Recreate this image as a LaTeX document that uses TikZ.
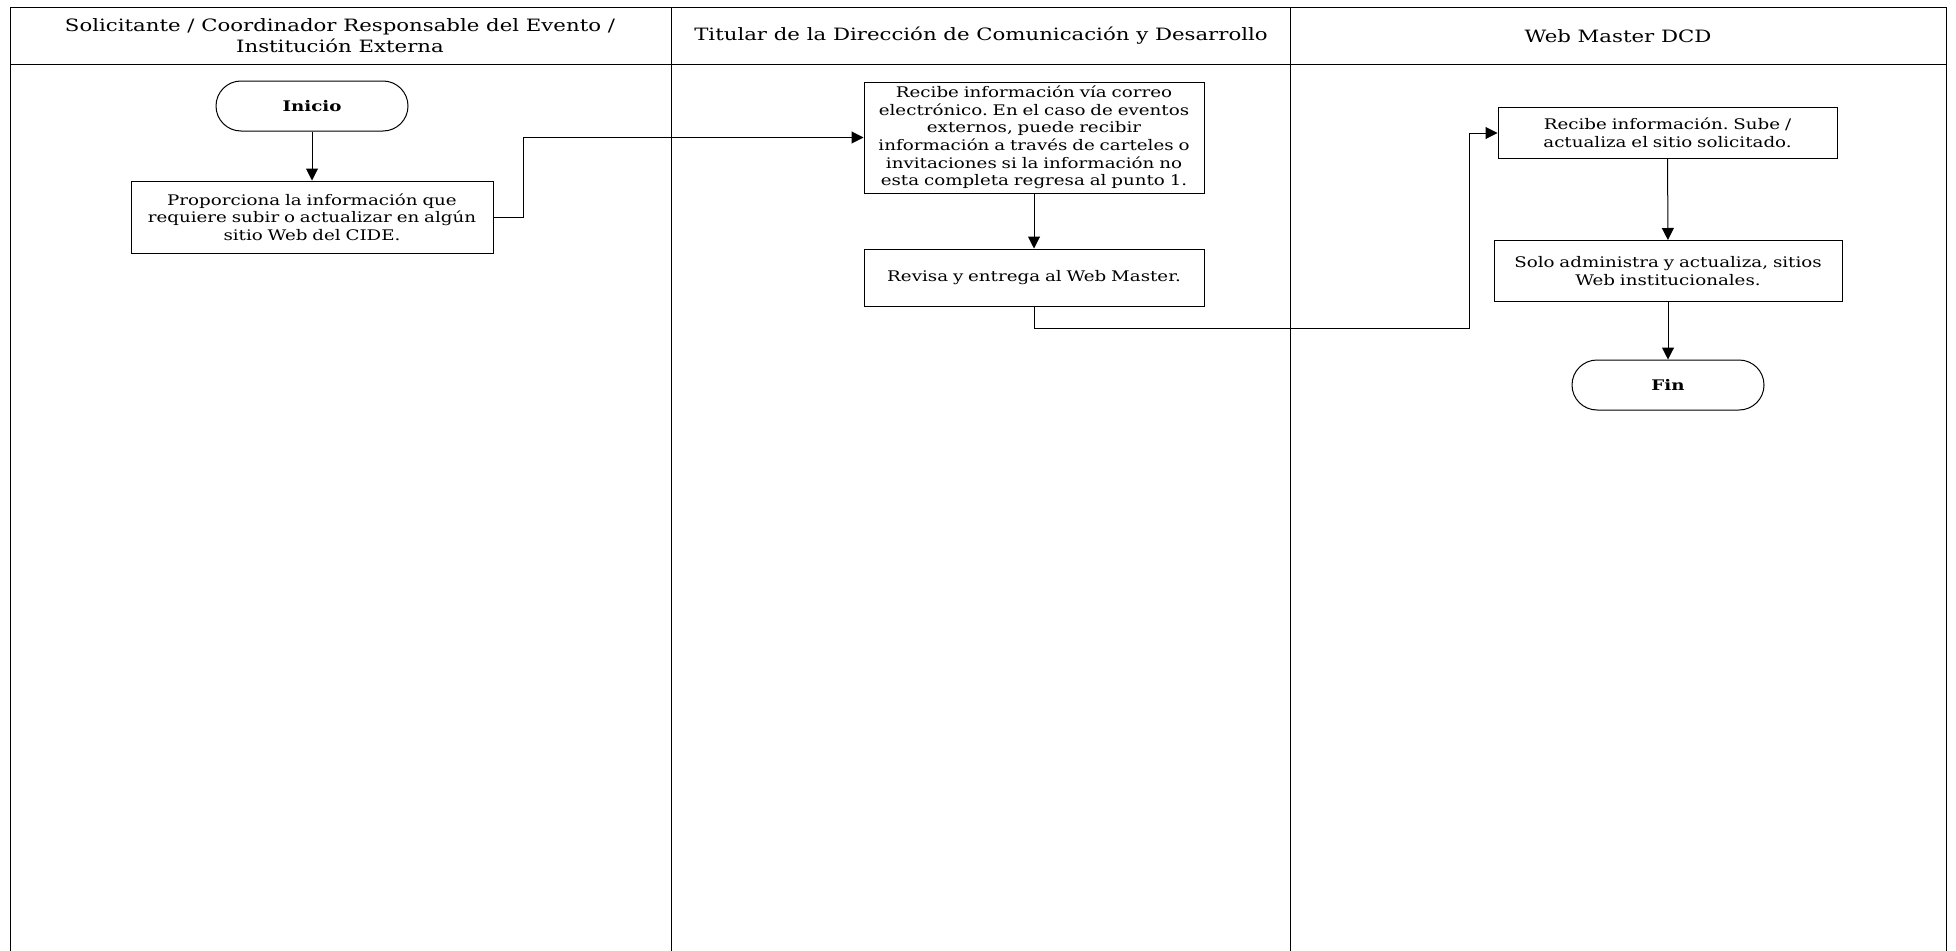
\documentclass[tikz,border=0pt]{standalone}
\usepackage{fontspec}
\setmainfont[FakeStretch=1.25]{DejaVu Serif}
\usetikzlibrary{arrows.meta}
\frenchspacing
\begin{document}
\begin{tikzpicture}[x=1pt,y=-1pt,
  frame/.style={line width=1pt,black},
  hdr/.style={align=center,font=\fontsize{17}{21}\selectfont,inner sep=0pt},
  box/.style={draw,line width=1pt,align=center,inner xsep=0pt,inner ysep=0pt,font=\fontsize{14.6}{17.7}\selectfont},
  term/.style={draw,line width=1pt,rounded corners=25pt,align=center,minimum width=192pt,minimum height=50pt,inner sep=0pt,font=\fontsize{14.6}{17.7}\selectfont\bfseries},
  arr/.style={line width=1pt,-{Triangle[length=12pt,width=12pt]}}]
\useasboundingbox (0,0) rectangle (1956,950);
% frame
\draw[frame] (10,952) -- (10,7.5) -- (1946,7.5) -- (1946,952);
\draw[frame] (10,65) -- (1946,65);
\draw[frame] (671,7.5) -- (671,952);
\draw[frame] (1290,7.5) -- (1290,952);
% headers
\node[hdr] (h1) at (340,36) {Solicitante / Coordinador Responsable del Evento /\\Institución Externa};
\node[hdr] (h2) at (981,36) {Titular de la Dirección de Comunicación y Desarrollo};
\node[hdr] (h3) at (1618,36) {Web Master DCD};
% nodes
\node[term] (inicio) at (312,106) {Inicio};
\node[box,text width=362pt,minimum height=72pt] (b1) at (312,217) {Proporciona la información que\\requiere subir o actualizar en algún\\sitio Web del CIDE.};
\node[box,text width=340pt,minimum height=111pt] (b2) at (1034,137.5) {Recibe información vía correo\\electrónico. En el caso de eventos\\externos, puede recibir\\información a través de carteles o\\invitaciones si la información no\\esta completa regresa al punto 1.};
\node[box,text width=340pt,minimum height=57pt] (b3) at (1034,277.5) {Revisa y entrega al Web Master.};
\node[box,text width=339pt,minimum height=51pt] (b4) at (1667.5,133) {Recibe información. Sube /\\actualiza el sitio solicitado.};
\node[box,text width=348pt,minimum height=61pt] (b5) at (1668,271) {Solo administra y actualiza, sitios\\Web institucionales.};
\node[term] (fin) at (1668,385) {Fin};
\coordinate (c1) at (523,217);
\coordinate (c2) at (1469,328);
% connectors
\draw[arr] (inicio) -- (b1);
\draw[arr] (b1.east) -- (c1) |- (b2.west);
\draw[arr] (b2) -- (b3);
\draw[arr] (b3.south) |- (c2) |- (b4.west);
\draw[arr] (b4) -- (b5);
\draw[arr] (b5) -- (fin);
\end{tikzpicture}
\end{document}
